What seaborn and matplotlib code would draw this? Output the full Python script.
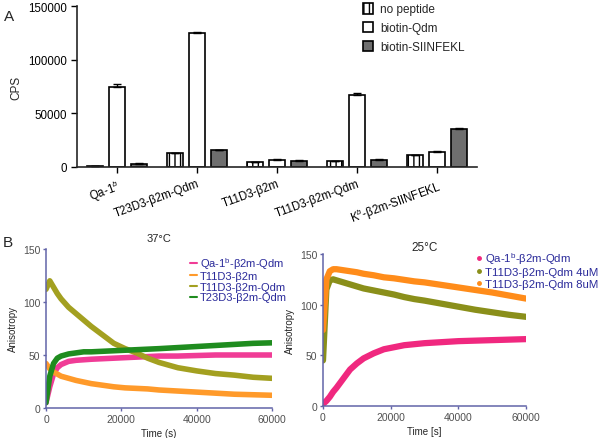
import numpy as np
import pandas as pd
import matplotlib
matplotlib.use('Agg')
import matplotlib.pyplot as plt
import seaborn as sns
from matplotlib.patches import Patch
from matplotlib.lines import Line2D

# ---- panel A: binding (CPS) ----
complexes = ['Qa-1$^{b}$', 'T23D3-β2m-Qdm', 'T11D3-β2m', 'T11D3-β2m-Qdm', 'K$^{b}$-β2m-SIINFEKL']
peptides = ['no peptide', 'biotin-Qdm', 'biotin-SIINFEKL']
cps_no_peptide = [1000, 13000, 4400, 5600, 11200]
cps_qdm = [74500, 124500, 6800, 67000, 14300]
cps_siinfekl = [3000, 15500, 5900, 6800, 35400]
err_no_peptide = [200, 400, 300, 300, 400]
err_qdm = [3200, 900, 400, 1500, 500]
err_siinfekl = [300, 300, 300, 300, 800]

# ---- panel B: anisotropy over time ----
time_s = [0, 1000, 2000, 3000, 4000, 6000, 8000, 10000, 12000, 15000, 18000,
          21000, 24000, 27000, 30000, 35000, 40000, 45000, 50000, 55000, 60000]

labels_37 = ['Qa-1$^{\\mathrm{b}}$-β2m-Qdm', 'T11D3-β2m', 'T11D3-β2m-Qdm', 'T23D3-β2m-Qdm']
qa1_37 = [5, 20, 32, 38, 41, 44, 45, 45.5, 46, 46.5, 47, 47.5, 48, 48.5, 49, 49, 49.5, 50, 50, 50, 50]
t11_37 = [42, 37, 34, 32, 30, 28, 26, 24.5, 23, 21.5, 20, 19, 18.5, 18, 17, 16, 15, 14, 13, 12.5, 12]
t11qdm_37 = [112, 120, 114, 108, 103, 95, 89, 83, 77, 69, 61, 56, 52, 47, 43, 38, 35, 32.5, 31, 29, 28]
t23qdm_37 = [5, 30, 42, 47, 49, 51, 52, 53, 53, 53.5, 54, 54.5, 55, 55.5, 56, 57, 58, 59, 60, 61, 61.5]

labels_25 = ['Qa-1$^{\\mathrm{b}}$-β2m-Qdm', 'T11D3-β2m-Qdm 4uM', 'T11D3-β2m-Qdm 8uM']
qa1_25 = [2, 5, 9, 14, 18, 27, 36, 42, 47, 52, 56, 58, 60, 61, 62, 63, 64, 64.5, 65, 65.5, 66]
t11_4um_25 = [45, 115, 124, 125, 124, 122, 120, 118, 116, 114, 112, 110, 107.5, 105.5, 104, 101, 98, 95, 92.5, 90, 88]
t11_8um_25 = [75, 125, 133, 135, 135, 134, 133, 132, 130.5, 129, 127, 126, 124.5, 123, 122, 119.5, 117, 114.5, 112, 109, 106]

colors_37 = ['#f03c96', '#ff9a2a', '#a3a020', '#1f8c1f']
colors_25 = ['#f0287f', '#8a8f1a', '#ff8c1a']
axis_blue = '#6264a8'
text_blue = '#2a2a9a'

sns.set_style('ticks')
plt.rcParams['font.family'] = ['Liberation Sans', 'DejaVu Sans']
plt.rcParams['mathtext.fontset'] = 'custom'
plt.rcParams['mathtext.rm'] = 'Liberation Sans'
plt.rcParams['mathtext.it'] = 'Liberation Sans:italic'
plt.rcParams['hatch.linewidth'] = 1.0

W, H = 601, 439
fig = plt.figure(figsize=(W / 100, H / 100), dpi=100)


def box(l, t, r, b):
    return [l / W, 1 - b / H, (r - l) / W, (b - t) / H]


axA = fig.add_axes(box(77, 7, 477, 168))
axB1 = fig.add_axes(box(46, 250, 272, 409))
axB2 = fig.add_axes(box(323, 255, 526, 407))

# ---------------- A ----------------
rows = []
for pep, vals in zip(peptides, [cps_no_peptide, cps_qdm, cps_siinfekl]):
    for c, v in zip(complexes, vals):
        rows.append((c, pep, v))
dfA = pd.DataFrame(rows, columns=['complex', 'peptide', 'cps'])

bar_pal = {'no peptide': 'white', 'biotin-Qdm': 'white', 'biotin-SIINFEKL': '#6e6e6e'}
sns.barplot(data=dfA, x='complex', y='cps', hue='peptide', order=complexes,
            hue_order=peptides, palette=bar_pal, width=0.825, gap=0.3,
            edgecolor='black', linewidth=1.2, errorbar=None, saturation=1,
            legend=False, ax=axA)

bar_sets = list(axA.containers)
for b in bar_sets[0]:
    b.set_hatch('|||')
for cont, err in zip(bar_sets, [err_no_peptide, err_qdm, err_siinfekl]):
    xs = [b.get_x() + b.get_width() / 2 for b in cont]
    ys = [b.get_height() for b in cont]
    axA.errorbar(xs, ys, yerr=[np.zeros(len(err)), err], fmt='none', ecolor='black',
                 elinewidth=1, capsize=3, capthick=1)

axA.set_xlim(-0.5, 4.5)
axA.set_ylim(0, 150000)
axA.set_yticks([0, 50000, 100000, 150000])
axA.set_xlabel('')
axA.set_ylabel('CPS', fontsize=8.5, labelpad=4)
axA.tick_params(axis='both', labelsize=8.3, length=4, width=1, colors='black')
plt.setp(axA.get_xticklabels(), rotation=20, ha='right', rotation_mode='anchor')
sns.despine(ax=axA)
for s in ['left', 'bottom']:
    axA.spines[s].set_linewidth(1.2)

handlesA = [Patch(facecolor='white', edgecolor='black', hatch='|||', linewidth=1.2),
            Patch(facecolor='white', edgecolor='black', linewidth=1.2),
            Patch(facecolor='#6e6e6e', edgecolor='black', linewidth=1.2)]
fig.legend(handlesA, peptides, loc='upper left', bbox_to_anchor=(363 / W, 1 - 4 / H),
           frameon=False, fontsize=8.5, handlelength=0.85, handleheight=1.0,
           handletextpad=0.6, labelspacing=0.55, borderpad=0, borderaxespad=0)

# ---------------- B ----------------
def long_frame(series, labels):
    frames = []
    for vals, lab in zip(series, labels):
        frames.append(pd.DataFrame({'time': time_s, 'anisotropy': vals, 'sample': lab}))
    return pd.concat(frames, ignore_index=True)


df37 = long_frame([qa1_37, t11_37, t11qdm_37, t23qdm_37], labels_37)
df25 = long_frame([qa1_25, t11_4um_25, t11_8um_25], labels_25)

sns.lineplot(data=df37, x='time', y='anisotropy', hue='sample', hue_order=labels_37,
             palette=dict(zip(labels_37, colors_37)), linewidth=4, estimator=None,
             legend=False, ax=axB1)
sns.lineplot(data=df25, x='time', y='anisotropy', hue='sample', hue_order=labels_25,
             palette=dict(zip(labels_25, colors_25)), linewidth=4.5, estimator=None,
             legend=False, ax=axB2)

for ax, xl in [(axB1, 'Time (s)'), (axB2, 'Time [s]')]:
    ax.set_xlim(0, 60000)
    ax.set_ylim(0, 150)
    ax.set_xticks([0, 20000, 40000, 60000])
    ax.set_yticks([0, 50, 100, 150])
    ax.set_xlabel(xl, fontsize=7, labelpad=3)
    ax.set_ylabel('Anisotropy', fontsize=7, labelpad=4)
    ax.tick_params(axis='both', labelsize=7.5, length=2.5, width=1,
                   color=axis_blue, labelcolor='#505050', pad=1.5)
    sns.despine(ax=ax)
    for s in ['left', 'bottom']:
        ax.spines[s].set_color(axis_blue)
        ax.spines[s].set_linewidth(1.1)

axB1.set_title('37°C', fontsize=8, pad=6)
axB2.set_title('25°C', fontsize=8.5, pad=3)

handles37 = [Line2D([], [], color=c, lw=1.5) for c in colors_37]
fig.legend(handles37, labels_37, loc='upper left', bbox_to_anchor=(190 / W, 1 - 256 / H),
           frameon=False, fontsize=8, handlelength=0.6, handletextpad=0.3,
           labelspacing=0.05, borderpad=0, borderaxespad=0, labelcolor=text_blue)

handles25 = [Line2D([], [], color=c, lw=0, marker='o', markersize=2.5) for c in colors_25]
fig.legend(handles25, labels_25, loc='upper left', bbox_to_anchor=(474 / W, 1 - 251 / H),
           frameon=False, fontsize=8.2, handlelength=0.8, handletextpad=0.2,
           labelspacing=0.12, borderpad=0, borderaxespad=0, labelcolor=text_blue)

fig.text(4 / W, 1 - 21 / H, 'A', fontsize=11)
fig.text(3 / W, 1 - 247 / H, 'B', fontsize=11)

fig.savefig('out.png', dpi=100)
